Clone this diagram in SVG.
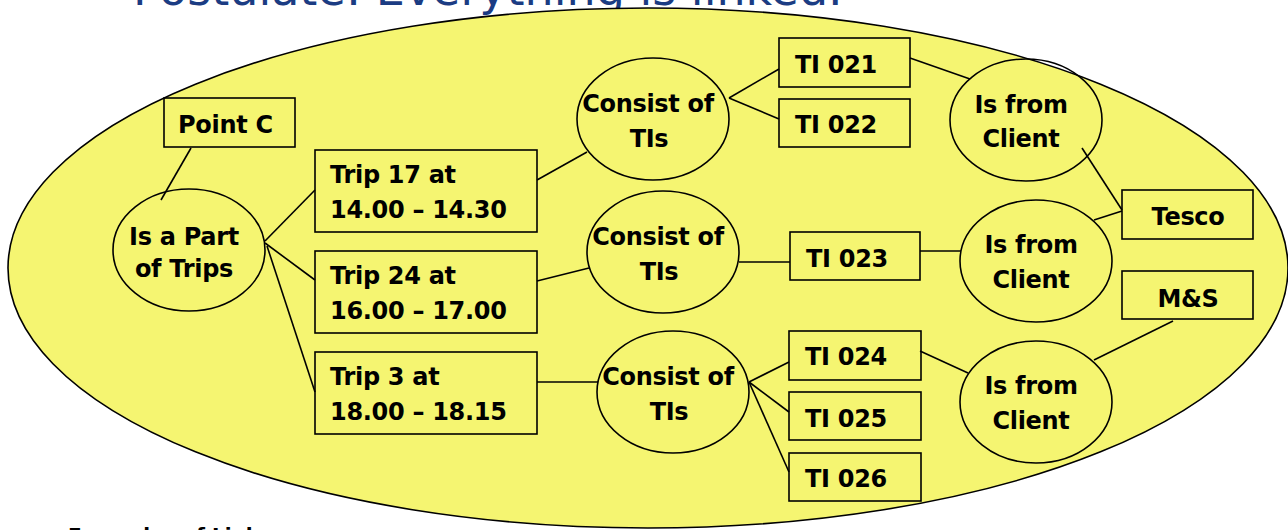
<svg xmlns="http://www.w3.org/2000/svg" width="1288" height="530" viewBox="0 0 1288 530">
  <style>
    .box { fill: none; stroke: #000; stroke-width: 1.6; }
    .rel { fill: none; stroke: #000; stroke-width: 1.6; }
    .lbl { font-family: "DejaVu Sans", Verdana, sans-serif; font-weight: bold; font-size: 24px; letter-spacing: -0.3px; fill: #000; }
    .mid { text-anchor: middle; }
    .conn line { stroke: #000; stroke-width: 1.6; }
  </style>

  <rect width="1288" height="530" fill="#fff"/>

  <!-- slide heading, mostly above the visible area -->
  <text x="133" y="5" font-family="DejaVu Sans, Verdana, sans-serif" font-size="46" fill="#1B3C83">Postulate: Everything is linked.</text>

  <!-- enclosing yellow area -->
  <ellipse cx="648" cy="268" rx="640" ry="260" fill="#F5F571" stroke="#000" stroke-width="1.6"/>

  <!-- connectors -->
  <g id="connectors" class="conn">
    <line x1="191" y1="148" x2="161" y2="200"/>
    <line x1="265" y1="241" x2="315" y2="190"/>
    <line x1="265" y1="243" x2="315" y2="280"/>
    <line x1="267" y1="246" x2="315" y2="392"/>
    <line x1="537" y1="180" x2="587" y2="152"/>
    <line x1="537" y1="281" x2="589" y2="268"/>
    <line x1="537" y1="382" x2="598" y2="382"/>
    <line x1="729" y1="98" x2="779" y2="69"/>
    <line x1="729" y1="98" x2="779" y2="119"/>
    <line x1="739" y1="262" x2="790" y2="262"/>
    <line x1="749" y1="382" x2="789" y2="362"/>
    <line x1="749" y1="382" x2="789" y2="412"/>
    <line x1="749" y1="382" x2="789" y2="472"/>
    <line x1="910" y1="58" x2="970" y2="79"/>
    <line x1="920" y1="251" x2="961" y2="251"/>
    <line x1="920" y1="351" x2="968" y2="373"/>
    <line x1="1082" y1="148" x2="1122" y2="210"/>
    <line x1="1094" y1="220" x2="1122" y2="211"/>
    <line x1="1173" y1="321" x2="1094" y2="360"/>
  </g>

  <!-- place -->
  <g id="point-c">
    <rect class="box" x="164" y="98" width="131" height="49"/>
    <text class="lbl" x="178" y="133">Point C</text>
  </g>

  <g id="part-of-trips">
    <ellipse class="rel" cx="189" cy="250" rx="76" ry="61"/>
    <text class="lbl mid" x="184" y="245">Is a Part</text>
    <text class="lbl mid" x="184" y="277">of Trips</text>
  </g>

  <!-- trips -->
  <g id="trip-17">
    <rect class="box" x="315" y="150" width="222" height="82"/>
    <text class="lbl" x="330" y="183">Trip 17 at</text>
    <text class="lbl" x="330" y="218">14.00 – 14.30</text>
  </g>
  <g id="trip-24">
    <rect class="box" x="315" y="251" width="222" height="82"/>
    <text class="lbl" x="330" y="284">Trip 24 at</text>
    <text class="lbl" x="330" y="319">16.00 – 17.00</text>
  </g>
  <g id="trip-3">
    <rect class="box" x="315" y="352" width="222" height="82"/>
    <text class="lbl" x="330" y="385">Trip 3 at</text>
    <text class="lbl" x="330" y="420">18.00 – 18.15</text>
  </g>

  <!-- consist-of relations -->
  <g id="consist-1">
    <ellipse class="rel" cx="653" cy="119" rx="76" ry="61"/>
    <text class="lbl mid" x="648" y="112">Consist of</text>
    <text class="lbl mid" x="649" y="147">TIs</text>
  </g>
  <g id="consist-2">
    <ellipse class="rel" cx="663" cy="252" rx="76" ry="61"/>
    <text class="lbl mid" x="658" y="245">Consist of</text>
    <text class="lbl mid" x="659" y="280">TIs</text>
  </g>
  <g id="consist-3">
    <ellipse class="rel" cx="673" cy="392" rx="76" ry="61"/>
    <text class="lbl mid" x="668" y="385">Consist of</text>
    <text class="lbl mid" x="669" y="420">TIs</text>
  </g>

  <!-- transport items -->
  <g id="ti-021">
    <rect class="box" x="779" y="38" width="131" height="49"/>
    <text class="lbl" x="795" y="73">TI 021</text>
  </g>
  <g id="ti-022">
    <rect class="box" x="779" y="99" width="131" height="48"/>
    <text class="lbl" x="795" y="133">TI 022</text>
  </g>
  <g id="ti-023">
    <rect class="box" x="790" y="232" width="130" height="48"/>
    <text class="lbl" x="806" y="267">TI 023</text>
  </g>
  <g id="ti-024">
    <rect class="box" x="789" y="331" width="132" height="49"/>
    <text class="lbl" x="805" y="365">TI 024</text>
  </g>
  <g id="ti-025">
    <rect class="box" x="789" y="392" width="132" height="48"/>
    <text class="lbl" x="805" y="427">TI 025</text>
  </g>
  <g id="ti-026">
    <rect class="box" x="789" y="453" width="132" height="48"/>
    <text class="lbl" x="805" y="487">TI 026</text>
  </g>

  <!-- client relations -->
  <g id="from-client-1">
    <ellipse class="rel" cx="1026" cy="120" rx="76" ry="61"/>
    <text class="lbl mid" x="1021" y="113">Is from</text>
    <text class="lbl mid" x="1021" y="147">Client</text>
  </g>
  <g id="from-client-2">
    <ellipse class="rel" cx="1036" cy="261" rx="76" ry="61"/>
    <text class="lbl mid" x="1031" y="253">Is from</text>
    <text class="lbl mid" x="1031" y="288">Client</text>
  </g>
  <g id="from-client-3">
    <ellipse class="rel" cx="1036" cy="402" rx="76" ry="61"/>
    <text class="lbl mid" x="1031" y="394">Is from</text>
    <text class="lbl mid" x="1031" y="429">Client</text>
  </g>

  <!-- clients -->
  <g id="tesco">
    <rect class="box" x="1122" y="190" width="131" height="49"/>
    <text class="lbl mid" x="1188" y="225">Tesco</text>
  </g>
  <g id="m-and-s">
    <rect class="box" x="1122" y="271" width="131" height="48"/>
    <text class="lbl mid" x="1188" y="307">M&amp;S</text>
  </g>

  <!-- next bullet, running off the bottom edge -->
  <text x="68" y="542" font-family="DejaVu Sans, Verdana, sans-serif" font-weight="bold" font-size="20" fill="#000">Examples of Links</text>
</svg>
